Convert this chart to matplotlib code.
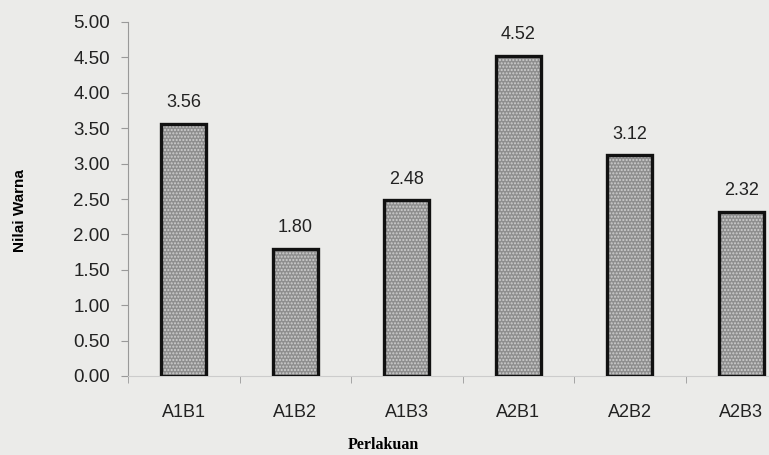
import matplotlib
matplotlib.use("Agg")
import numpy as np
import matplotlib.pyplot as plt
from matplotlib.ticker import MultipleLocator, FixedLocator

# treatment means for colour score
perlakuan = ["A1B1", "A1B2", "A1B3", "A2B1", "A2B2", "A2B3"]
nilai_warna = [3.56, 1.80, 2.48, 4.52, 3.12, 2.32]

plt.rcParams['font.family'] = ['Liberation Sans', 'DejaVu Sans']

fig = plt.figure(figsize=(7.69, 4.55), dpi=100, facecolor='#ebebe9')
ax = fig.add_axes([128 / 769, 1 - 376 / 455, 669 / 769, 354 / 455])
ax.set_facecolor('#ebebe9')

x = np.arange(len(perlakuan))
# textured fill, then a heavy outline on top
ax.bar(x, nilai_warna, width=0.4, color='#8e8e8e', edgecolor='#cfcfcf',
       linewidth=0, hatch='.....', zorder=2)
ax.bar(x, nilai_warna, width=0.4, fill=False, edgecolor='#111111',
       linewidth=2.4, zorder=3)

for xi, v in zip(x, nilai_warna):
    ax.annotate(f"{v:.2f}", (xi, v), xytext=(0, 9), textcoords='offset points',
                ha='center', va='bottom', fontsize=13, color='#222222')

ax.set_xlim(-0.5, len(perlakuan) - 0.5)
ax.set_ylim(0, 5)
ax.yaxis.set_major_locator(MultipleLocator(0.5))
ax.yaxis.set_major_formatter(lambda v, p: f"{v:.2f}")

ax.set_xticks(x)
ax.set_xticklabels(perlakuan)
ax.xaxis.set_minor_locator(FixedLocator(np.arange(-0.5, len(perlakuan), 1)))
ax.tick_params(axis='x', which='major', length=0, pad=20, labelsize=13, colors='#222222')
ax.tick_params(axis='x', which='minor', length=5, color='#999999')
ax.tick_params(axis='y', length=5, pad=8, labelsize=13.5, color='#999999', labelcolor='#222222')

for s in ['top', 'right']:
    ax.spines[s].set_visible(False)
ax.spines['left'].set_color('#999999')
ax.spines['bottom'].set_color('#cccccc')

fig.text(20 / 769, 1 - 211 / 455, "Nilai Warna", rotation=90, ha='center', va='center',
         fontsize=11, fontweight='bold')
fig.text(383 / 769, 1 - 445 / 455, "Perlakuan", ha='center', va='center',
         fontsize=11.5, fontweight='bold', family=['Liberation Serif'])

fig.savefig("out.png", dpi=100, facecolor=fig.get_facecolor())
